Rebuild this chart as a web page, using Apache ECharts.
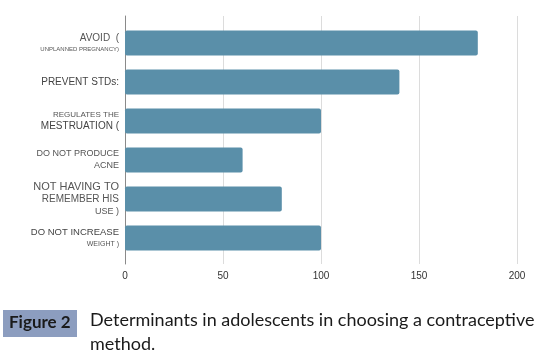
<!DOCTYPE html>
<html><head><meta charset="utf-8">
<script src="https://cdn.jsdelivr.net/npm/echarts@6/dist/echarts.min.js"></script>
<style>html,body{margin:0;padding:0;background:#fff}#c{width:542px;height:356px}</style>
</head><body><div id="c"></div>
<script>
const categories = ['AVOID_UNPLANNED','PREVENT_STDS','REGULATES','ACNE','REMEMBER','WEIGHT'];
const values = [180, 140, 100, 60, 80, 100];
const xTicks = [0, 50, 100, 150, 200];
const captionLabel = 'Figure 2';
const captionLines = ['Determinants in adolescents in choosing a contraceptive', 'method.'];

const labelText = {
  AVOID_UNPLANNED: '{a|AVOID  (}\n{b|UNPLANNED PREGNANCY)}',
  PREVENT_STDS: '{c|PREVENT STDs:}',
  REGULATES: '{d|REGULATES THE}\n{c|MESTRUATION (}',
  ACNE: '{e|DO NOT PRODUCE}\n{e|ACNE}',
  REMEMBER: '{f|NOT HAVING TO}\n{g|REMEMBER HIS}\n{e|USE )}',
  WEIGHT: '{i|DO NOT INCREASE}\n{h|WEIGHT )}'
};

const chart = echarts.init(document.getElementById('c'));
const ff = '"Liberation Sans", Arial, sans-serif';
chart.setOption({
  animation: false,
  grid: [
    {left: 125, right: 25, top: 16, bottom: 92},
    {left: 125, right: 25, top: 23.5, bottom: 98.5}
  ],
  xAxis: [
    {type: 'value', gridIndex: 0, min: xTicks[0], max: xTicks[xTicks.length-1], interval: 50,
     axisLine: {show: false},
     axisTick: {show: false},
     splitLine: {show: true, lineStyle: {color: '#dcdcdc', width: 1}},
     axisLabel: {color: '#333', fontSize: 10, fontFamily: ff, margin: 7}},
    {type: 'value', gridIndex: 1, min: xTicks[0], max: xTicks[xTicks.length-1], interval: 50,
     show: false}
  ],
  yAxis: [
    {type: 'category', gridIndex: 0, data: categories, inverse: true,
     axisLine: {show: true, lineStyle: {color: '#8a8a8a', width: 1}},
     axisTick: {show: false}, axisLabel: {show: false}, splitLine: {show: false}},
    {type: 'category', gridIndex: 1, data: categories, inverse: true,
     axisLine: {show: false}, axisTick: {show: false},
     axisLabel: {
       margin: 6, align: 'right', fontFamily: ff, color: '#555', lineHeight: 12,
       formatter: v => labelText[v],
       rich: {
         a: {fontSize: 10, color: '#555', fontFamily: ff, lineHeight: 12, align: 'right'},
         b: {fontSize: 6, color: '#555', fontFamily: ff, lineHeight: 10, align: 'right'},
         c: {fontSize: 10, color: '#444', fontFamily: ff, lineHeight: 12, align: 'right'},
         d: {fontSize: 8, color: '#555', fontFamily: ff, lineHeight: 11, align: 'right'},
         e: {fontSize: 9, color: '#555', fontFamily: ff, lineHeight: 12, align: 'right'},
         f: {fontSize: 11, color: '#555', fontFamily: ff, lineHeight: 13, align: 'right'},
         g: {fontSize: 10, color: '#555', fontFamily: ff, lineHeight: 12, align: 'right'},
         h: {fontSize: 7, color: '#555', fontFamily: ff, lineHeight: 11, align: 'right'},
         i: {fontSize: 9.5, color: '#444', fontFamily: ff, lineHeight: 12, align: 'right'}
       }
     }}
  ],
  series: [{
    type: 'bar', xAxisIndex: 1, yAxisIndex: 1, data: values,
    barWidth: 25,
    itemStyle: {color: '#5a8fa9', borderRadius: 2}
  }],
  graphic: [
    {type: 'rect', left: 3, top: 310, shape: {width: 74, height: 27}, style: {fill: '#8c9dbf'}},
    {type: 'text', left: 9, top: 314, style: {text: captionLabel, font: 'bold 17px Lato, "Open Sans", sans-serif', fill: '#1a1a1a'}},
    {type: 'text', left: 90, top: 308, style: {text: captionLines.join('\n'), font: '18px Lato, "Open Sans", sans-serif', lineHeight: 24, fill: '#1a1a1a'}}
  ]
});
</script></body></html>
